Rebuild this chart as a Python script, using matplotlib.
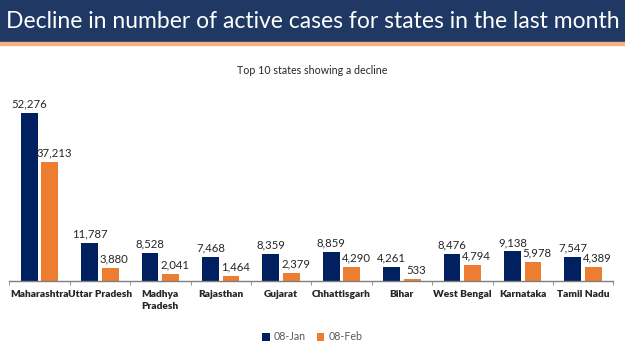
import numpy as np
import matplotlib.pyplot as plt
from matplotlib.patches import Rectangle

# Data
states = ['Maharashtra', 'Uttar Pradesh', 'Madhya\nPradesh', 'Rajasthan', 'Gujarat',
          'Chhattisgarh', 'Bihar', 'West Bengal', 'Karnataka', 'Tamil Nadu']
jan = [52276, 11787, 8528, 7468, 8359, 8859, 4261, 8476, 9138, 7547]
feb = [37213, 3880, 2041, 1464, 2379, 4290, 533, 4794, 5978, 4389]

navy = '#002060'
orange = '#ED7D31'

plt.rcParams['font.family'] = ['Lato', 'DejaVu Sans']

fig = plt.figure(figsize=(6.25, 3.51), dpi=100)

# title bar
fig.patches.append(Rectangle((0, 1 - 42 / 351), 1, 42 / 351, transform=fig.transFigure,
                             color='#1F3864', zorder=0))
fig.patches.append(Rectangle((0, 1 - 44.5 / 351), 1, 2.5 / 351, transform=fig.transFigure,
                             color='#F4B183', zorder=0))
fig.text(0.5, 1 - 21 / 351, 'Decline in number of active cases for states in the last month',
         color='white', fontsize=16.5, ha='center', va='center')

fig.text(0.5, 1 - 71 / 351, 'Top 10 states showing a decline', fontsize=7.7,
         ha='center', va='center', color='#262626')

ax = fig.add_axes([9.3 / 625, 1 - 280.7 / 351, 604 / 625, (280.7 - 104) / 351])
x = np.arange(len(states))
w = 0.28
off = 0.17
b1 = ax.bar(x - off, jan, w, color=navy, label='08-Jan')
b2 = ax.bar(x + off, feb, w, color=orange, label='08-Feb')

for bars, vals, dx in ((b1, jan, 0), (b2, feb, 3)):
    for b, v in zip(bars, vals):
        ax.annotate(f'{v:,}', (b.get_x() + b.get_width() / 2, v), xytext=(dx, 2.5),
                    textcoords='offset points', ha='center', va='bottom',
                    fontsize=8.2, color='#262626', annotation_clip=False)

ax.set_xlim(-0.5, len(states) - 0.5)
ax.set_ylim(0, 52276 * (280.7 - 104) / 167.4)
ax.set_yticks([])
for s in ['top', 'right', 'left']:
    ax.spines[s].set_visible(False)
ax.spines['bottom'].set_color('#7f7f7f')
ax.spines['bottom'].set_linewidth(1)
ax.set_xticks(x)
ax.set_xticklabels(states, fontsize=7.3, fontweight='heavy', color='#262626', va='top',
                   linespacing=1.3)
ax.tick_params(axis='x', which='major', length=0, pad=7)
ax.set_xticks(np.arange(-0.5, len(states)), minor=True)
ax.tick_params(axis='x', which='minor', length=3, color='#7f7f7f', direction='out')

fig.legend(handles=[b1, b2], loc='center', bbox_to_anchor=(0.5, 1 - 337 / 351), ncol=2,
           frameon=False, fontsize=7.7, handlelength=0.7, handleheight=0.7,
           handletextpad=0.4, columnspacing=1.0, labelcolor='#595959')

fig.savefig('out.png', dpi=100)
